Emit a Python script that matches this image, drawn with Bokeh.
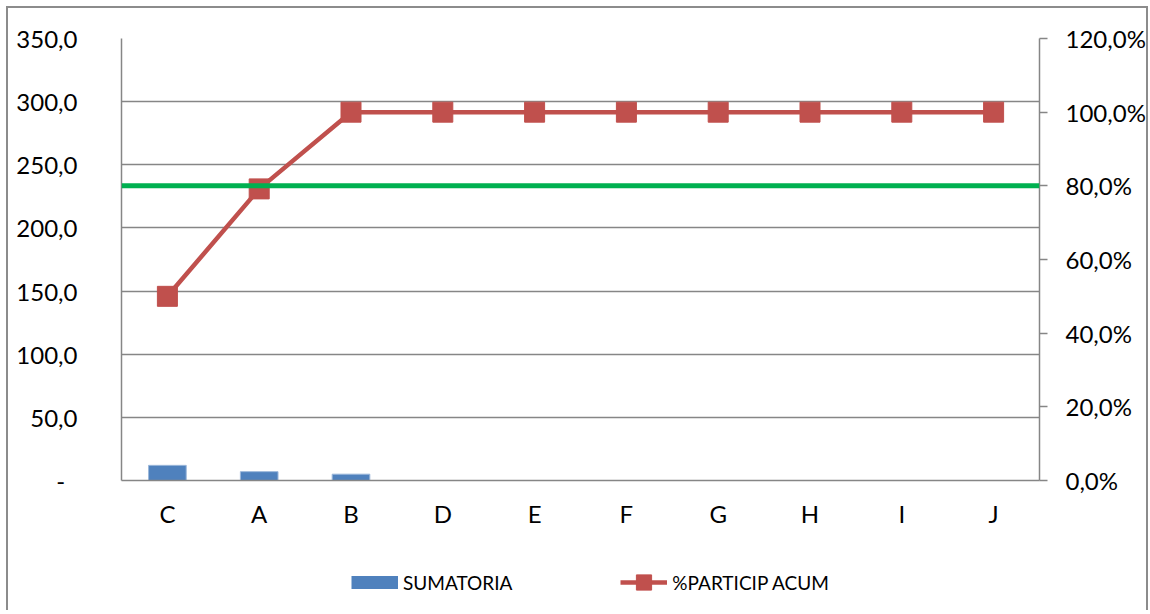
from bokeh.plotting import figure
from bokeh.layouts import column
from bokeh.models import (Range1d, LinearAxis, FixedTicker, Span, Legend,
                          LegendItem, FactorRange)
from bokeh.embed import file_html
from bokeh.resources import INLINE

# ---- data ----
categories = ["C", "A", "B", "D", "E", "F", "G", "H", "I", "J"]
sumatoria = [12.0, 7.0, 5.0, 0.0, 0.0, 0.0, 0.0, 0.0, 0.0, 0.0]
particip_acum = [50.0, 79.17, 100.0, 100.0, 100.0, 100.0, 100.0, 100.0, 100.0, 100.0]
threshold = 80.0

left_ticks = [0, 50, 100, 150, 200, 250, 300, 350]
left_labels = ["-\u00a0\u00a0", "50,0", "100,0", "150,0", "200,0", "250,0", "300,0", "350,0"]
right_ticks = [0, 20, 40, 60, 80, 100, 120]
right_labels = ["0,0%", "20,0%", "40,0%", "60,0%", "80,0%", "100,0%", "120,0%"]

GRAY = "#868686"
BLUE = "#4F81BD"
RED = "#C0504D"
GREEN = "#00B050"
FONT = "Lato"
FS = "24px"
FRAME = "#8c8c8c"

p = figure(x_range=FactorRange(factors=categories), y_range=Range1d(0, 350),
           width=1148, height=530, output_backend="svg", toolbar_location=None,
           min_border_left=121, min_border_right=107, min_border_top=38,
           min_border_bottom=50)
p.extra_y_ranges = {"pct": Range1d(0, 120)}
p.outline_line_color = None
p.background_fill_color = "white"
p.border_fill_color = None
p.styles = {"box-shadow": f"inset 6px 0 0 #fff, inset 0 6px 0 #fff, inset 8px 0 0 {FRAME}, "
                          f"inset 0 8px 0 {FRAME}, inset -2px 0 0 {FRAME}"}

# grid
p.xgrid.grid_line_color = None
p.ygrid.ticker = FixedTicker(ticks=left_ticks)
p.ygrid.grid_line_color = GRAY
p.ygrid.grid_line_width = 1.5

# left axis
ly = p.yaxis[0]
ly.ticker = FixedTicker(ticks=left_ticks)
ly.major_label_overrides = {t: l for t, l in zip(left_ticks, left_labels)}
ly.axis_line_color = GRAY
ly.axis_line_width = 1.5
ly.major_tick_line_color = None
ly.minor_tick_line_color = None
ly.major_label_standoff = 38
ly.major_label_text_font = FONT
ly.major_label_text_font_size = FS
ly.major_label_text_color = "black"

# right axis
ry = LinearAxis(y_range_name="pct", ticker=FixedTicker(ticks=right_ticks),
                major_label_overrides={t: l for t, l in zip(right_ticks, right_labels)})
ry.axis_line_color = GRAY
ry.axis_line_width = 1.5
ry.major_tick_line_color = GRAY
ry.major_tick_line_width = 1.5
ry.major_tick_out = 8
ry.major_tick_in = 0
ry.minor_tick_line_color = None
ry.major_label_standoff = 18
ry.major_label_text_font = FONT
ry.major_label_text_font_size = FS
ry.major_label_text_color = "black"
p.add_layout(ry, "right")

# bottom axis
bx = p.xaxis[0]
bx.axis_line_color = GRAY
bx.axis_line_width = 1.5
bx.major_tick_line_color = None
bx.minor_tick_line_color = None
bx.major_label_standoff = 12
bx.major_label_text_font = FONT
bx.major_label_text_font_size = FS
bx.major_label_text_color = "black"

# bars
bars = p.vbar(x=categories, top=sumatoria, width=0.41, fill_color=BLUE,
              line_color="#9BB7DA", line_width=1)

# threshold line
p.add_layout(Span(location=threshold, dimension="width", y_range_name="pct",
                  line_color=GREEN, line_width=5))

# cumulative line
ln = p.line(x=categories, y=particip_acum, y_range_name="pct",
            line_color=RED, line_width=4.5)
mk = p.scatter(x=categories, y=particip_acum, y_range_name="pct", marker="square",
               size=20, fill_color=RED, line_color=RED)

# ---- legend strip (separate figure below the chart) ----
lf = figure(width=1148, height=80, x_range=Range1d(0, 1), y_range=Range1d(0, 1),
            output_backend="svg", toolbar_location=None,
            x_axis_location=None, y_axis_location=None, min_border=0)
lf.grid.grid_line_color = None
lf.outline_line_color = None
lf.background_fill_color = None
lf.border_fill_color = None
lf.styles = {"box-shadow": f"inset 6px 0 0 #fff, inset 8px 0 0 {FRAME}, inset -2px 0 0 {FRAME}"}

# proxy renderers for the legend swatches (their points lie outside this strip's ranges)
sw_bar = lf.line(x=sumatoria[:1], y=sumatoria[:1], line_color=BLUE, line_width=13,
                 line_cap="butt")
sw_line = lf.line(x=particip_acum[:1], y=particip_acum[:1], line_color=RED, line_width=4.5)
sw_mark = lf.scatter(x=particip_acum[:1], y=particip_acum[:1], marker="square", size=20,
                     fill_color=RED, line_color=RED)

leg = Legend(items=[LegendItem(label="SUMATORIA", renderers=[sw_bar]),
                    LegendItem(label="%PARTICIP ACUM", renderers=[sw_line, sw_mark])],
             orientation="horizontal", location=(230, 9),
             glyph_width=47, glyph_height=38, label_standoff=5, spacing=108,
             padding=0, margin=0, border_line_color=None,
             background_fill_alpha=0, label_text_font=FONT,
             label_text_font_size="19px", label_text_color="black")
lf.add_layout(leg, "center")

layout = column(p, lf, spacing=0)
open("out.html", "w").write(file_html(layout, INLINE))
